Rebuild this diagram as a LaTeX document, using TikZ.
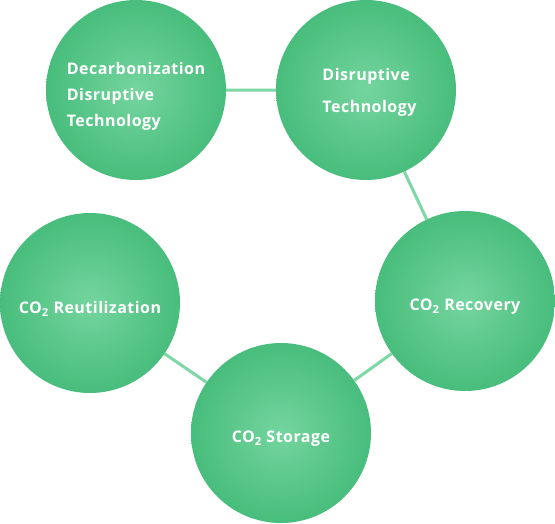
\documentclass[tikz,border=0pt]{standalone}
\usepackage{fontspec}
\setmainfont{Open Sans}
\usetikzlibrary{backgrounds}
\definecolor{cinner}{HTML}{74D59E}
\definecolor{couter}{HTML}{48BD7C}
\definecolor{clink}{HTML}{7DD8A5}
% lower the text in a bubble without changing its box
\newcommand\dropby[2]{\raisebox{-#1}[\height][\depth]{#2}}
\tikzset{
  every picture/.style={x=1pt, y=-1pt},
  bubble/.style={circle, minimum size=180pt, inner sep=0pt, inner color=cinner, outer color=couter,
    text=white, font=\fontsize{16}{26}\selectfont\bfseries\addfontfeatures{LetterSpace=3}},
  link/.style={draw=clink, line width=3pt},
}
\begin{document}
\begin{tikzpicture}
  \useasboundingbox (0,0) rectangle (555,523);
  \node[bubble] (decarb) at (136,90)
    {\dropby{5pt}{\begin{tabular}{@{}l@{}}Decarbonization\\Disruptive\\Technology\end{tabular}}};
  \node[bubble, font=\fontsize{16}{32}\selectfont\bfseries\addfontfeatures{LetterSpace=3}] (disrupt) at (366,90)
    {\hspace*{7pt}\dropby{0pt}{\begin{tabular}{@{}l@{}}Disruptive\\Technology\end{tabular}}};
  \node[bubble] (recovery) at (465,301) {\dropby{6pt}{CO\textsubscript{2} Recovery}};
  \node[bubble] (storage) at (281,433) {\dropby{6pt}{CO\textsubscript{2} Storage}};
  \node[bubble] (reuse) at (90,303) {\dropby{6pt}{CO\textsubscript{2} Reutilization}};
  \begin{scope}[on background layer]
    \draw[link] (decarb) -- (disrupt) -- (recovery) -- (storage) -- (reuse);
  \end{scope}
\end{tikzpicture}
\end{document}
